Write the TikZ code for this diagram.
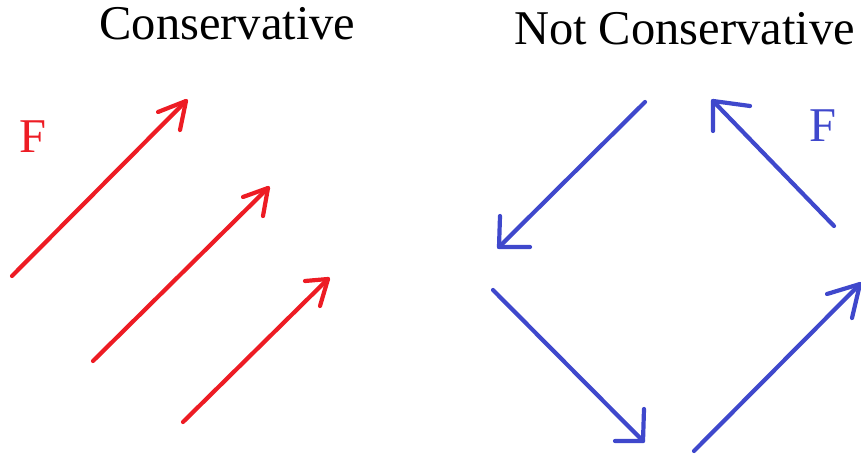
\documentclass[tikz,border=0pt]{standalone}
\usepackage{fontspec}
\setmainfont{Liberation Serif}
\definecolor{pred}{RGB}{237,28,36}
\definecolor{pblue}{RGB}{63,72,204}
\begin{document}
\begin{tikzpicture}[x=1pt,y=-1pt,
  lbl/.style={inner sep=0pt,anchor=base,font=\fontsize{48.5}{52}\selectfont},
  vec/.style={line width=4.2pt,line cap=round,line join=round},
  redvec/.style={vec,draw=pred},
  bluevec/.style={vec,draw=pblue}]
\useasboundingbox (0,0) rectangle (861,454);
% titles
\node[lbl] (t1) at (227.5,40) {Conservative};
\node[lbl] (t2) at (684.5,45) {Not Conservative};
\node[lbl,text=pred] (f1) at (32.5,153) {F};
\node[lbl,text=pblue] (f2) at (822.5,142) {F};
% red arrows
\coordinate (r1s) at (12,276);  \coordinate (r1t) at (186,101);
\coordinate (r1a) at (158,112); \coordinate (r1b) at (180,130);
\coordinate (r2s) at (93,361);  \coordinate (r2t) at (268,188);
\coordinate (r2a) at (243,197); \coordinate (r2b) at (263,216);
\coordinate (r3s) at (183,422); \coordinate (r3t) at (328,279);
\coordinate (r3a) at (305,281); \coordinate (r3b) at (320,306);
\draw[redvec] (r1s) -- (r1t); \draw[redvec] (r1a) -- (r1t) -- (r1b);
\draw[redvec] (r2s) -- (r2t); \draw[redvec] (r2a) -- (r2t) -- (r2b);
\draw[redvec] (r3s) -- (r3t); \draw[redvec] (r3a) -- (r3t) -- (r3b);
% blue arrows
\coordinate (bAs) at (645,102); \coordinate (bAt) at (499,247);
\coordinate (bAa) at (500,216); \coordinate (bAb) at (530,247);
\coordinate (bBs) at (834,226); \coordinate (bBt) at (713,101);
\coordinate (bBa) at (750,106); \coordinate (bBb) at (713,131);
\coordinate (bCs) at (493,290); \coordinate (bCt) at (643,441);
\coordinate (bCa) at (644,409); \coordinate (bCb) at (615,441);
\coordinate (bDs) at (694,451); \coordinate (bDt) at (860,284);
\coordinate (bDa) at (827,294); \coordinate (bDb) at (852,318);
\draw[bluevec] (bAs) -- (bAt); \draw[bluevec] (bAa) -- (bAt) -- (bAb);
\draw[bluevec] (bBs) -- (bBt); \draw[bluevec] (bBa) -- (bBt) -- (bBb);
\draw[bluevec] (bCs) -- (bCt); \draw[bluevec] (bCa) -- (bCt) -- (bCb);
\draw[bluevec] (bDs) -- (bDt); \draw[bluevec] (bDa) -- (bDt) -- (bDb);
\end{tikzpicture}
\end{document}
